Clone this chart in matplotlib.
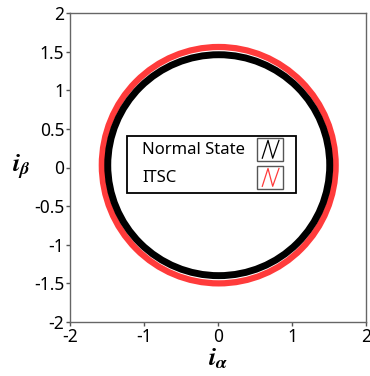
import numpy as np
import matplotlib.pyplot as plt
from matplotlib.patches import Ellipse, Rectangle

plt.rcParams['font.family'] = ['Noto Sans', 'DejaVu Sans']
plt.rcParams['mathtext.fontset'] = 'stix'
plt.rcParams['axes.unicode_minus'] = False

# trajectory amplitudes
series = ['Normal State', 'ITSC']
colors = ['black', '#ff3b3b']
amp_alpha = [1.50, 1.58]
amp_beta = [1.43, 1.53]
center_alpha = [0.01, 0.01]
center_beta = [0.03, 0.03]
widths = [5.0, 4.5]

x_ticks = [-2, -1, 0, 1, 2]
y_ticks = [-2, -1.5, -1, -0.5, 0, 0.5, 1, 1.5, 2]

fig = plt.figure(figsize=(3.70, 3.76), dpi=100)
ax = fig.add_axes([70 / 370, 1 - 322 / 376, 296 / 370, 309 / 376])

for i in [1, 0]:
    e = Ellipse((center_alpha[i], center_beta[i]), 2 * amp_alpha[i],
                2 * amp_beta[i], fill=False, edgecolor=colors[i],
                lw=widths[i], zorder=2 + (1 - i))
    ax.add_patch(e)

ax.set_xlim(-2, 2)
ax.set_ylim(-2, 2)
ax.set_xticks(x_ticks)
ax.set_yticks(y_ticks)
ax.set_yticklabels([('%g' % v) for v in y_ticks])
ax.tick_params(direction='out', length=3, width=1, color='#555555',
               labelsize=12.5, pad=1)
for s in ax.spines.values():
    s.set_color('#666666')
    s.set_linewidth(1)

ax.set_xlabel(r'$\mathbfit{i}_{\mathbfit{\alpha}}$', fontsize=19, labelpad=-1)
ax.set_ylabel(r'$\mathbfit{i}_{\mathbfit{\beta}}$', fontsize=19, labelpad=9,
              rotation=0, va='center')

# legend drawn by hand: text on the left, small /\/ icon boxes on the right
tr = ax.transAxes
ax.add_patch(Rectangle((0.193, 0.418), 0.571, 0.185, transform=tr,
                       facecolor='white', edgecolor='black', lw=1.3, zorder=5))
row_y = [0.558, 0.467]
for i in range(len(series)):
    ax.text(0.243, row_y[i], series[i], transform=tr, fontsize=12,
            va='center', ha='left', zorder=6)
    bx, by, bw, bh = 0.632, row_y[i] - 0.037, 0.088, 0.076
    ax.add_patch(Rectangle((bx, by), bw, bh, transform=tr, facecolor='white',
                           edgecolor='#555555', lw=1, zorder=6))
    zx = [bx + 0.2 * bw, bx + 0.42 * bw, bx + 0.6 * bw, bx + 0.84 * bw]
    zy = [by + 0.12 * bh, by + 0.88 * bh, by + 0.12 * bh, by + 0.88 * bh]
    ax.plot(zx, zy, transform=tr, color=colors[i], lw=0.9, zorder=7)

fig.savefig('out.png', dpi=100)
